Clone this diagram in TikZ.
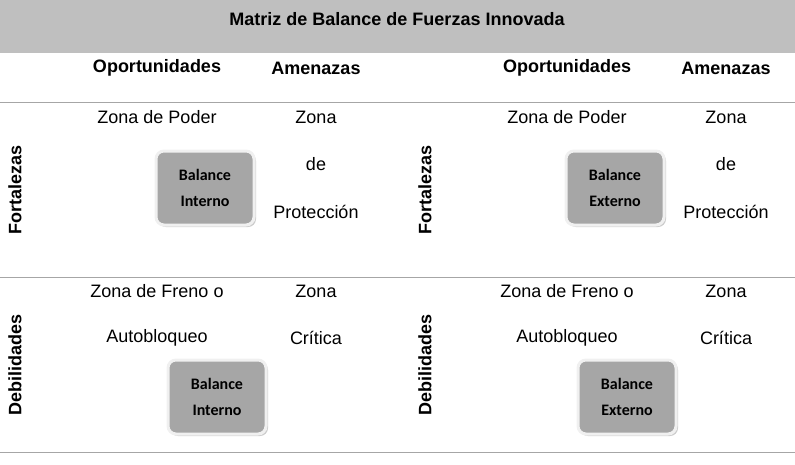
\documentclass[tikz,border=0pt]{standalone}
\usepackage{fontspec}
\setmainfont{Liberation Sans}
\newfontfamily\arialfont{Liberation Sans}
\newfontfamily\boxfont{Carlito}
\usetikzlibrary{shadows}
\begin{document}
\begin{tikzpicture}[x=1pt,y=-1pt,
  txt/.style={font=\arialfont\fontsize{18}{21}\selectfont},
  head/.style={font=\arialfont\bfseries\fontsize{18}{21}\selectfont},
  side/.style={font=\arialfont\bfseries\fontsize{18}{21}\selectfont,rotate=90},
  balance/.style={draw=gray!12,line width=3pt,fill=gray!70,rounded corners=8pt,
    minimum width=98pt,minimum height=74pt,align=center,
    font=\boxfont\bfseries\fontsize{16}{26}\selectfont,
    drop shadow={shadow xshift=2pt,shadow yshift=-2pt,opacity=0.4}}]
\useasboundingbox (0,0) rectangle (795,464);
\fill[gray!50] (0,0) rectangle (795,53);
\node[head] (title) at (397,19) {Matriz de Balance de Fuerzas Innovada};
\draw[gray!70,thick] (0,102) -- (795,102);
\draw[gray!70,thick] (0,277) -- (795,277);
\draw[gray!70,thick] (0,452) -- (795,452);
% two halves
\foreach \dx/\kind in {0/Interno,410/Externo}{
  \node[head] at (157+\dx,68) {Oportunidades};
  \node[head] at (316+\dx,68) {Amenazas};
  \node[side] at (15+\dx,190) {Fortalezas};
  \node[side] at (15+\dx,365) {Debilidades};
  \node[txt] at (157+\dx,117) {Zona de Poder};
  \node[txt] at (316+\dx,117) {Zona};
  \node[txt] at (316+\dx,164) {de};
  \node[txt] at (316+\dx,212) {Protección};
  \node[txt] at (157+\dx,291) {Zona de Freno o};
  \node[txt] at (157+\dx,338) {Autobloqueo};
  \node[txt] at (316+\dx,291) {Zona};
  \node[txt] at (316+\dx,338) {Crítica};
  \node[balance] at (205+\dx,188) {Balance\\\kind};
  \node[balance] at (217+\dx,397) {Balance\\\kind};
}
\end{tikzpicture}
\end{document}
